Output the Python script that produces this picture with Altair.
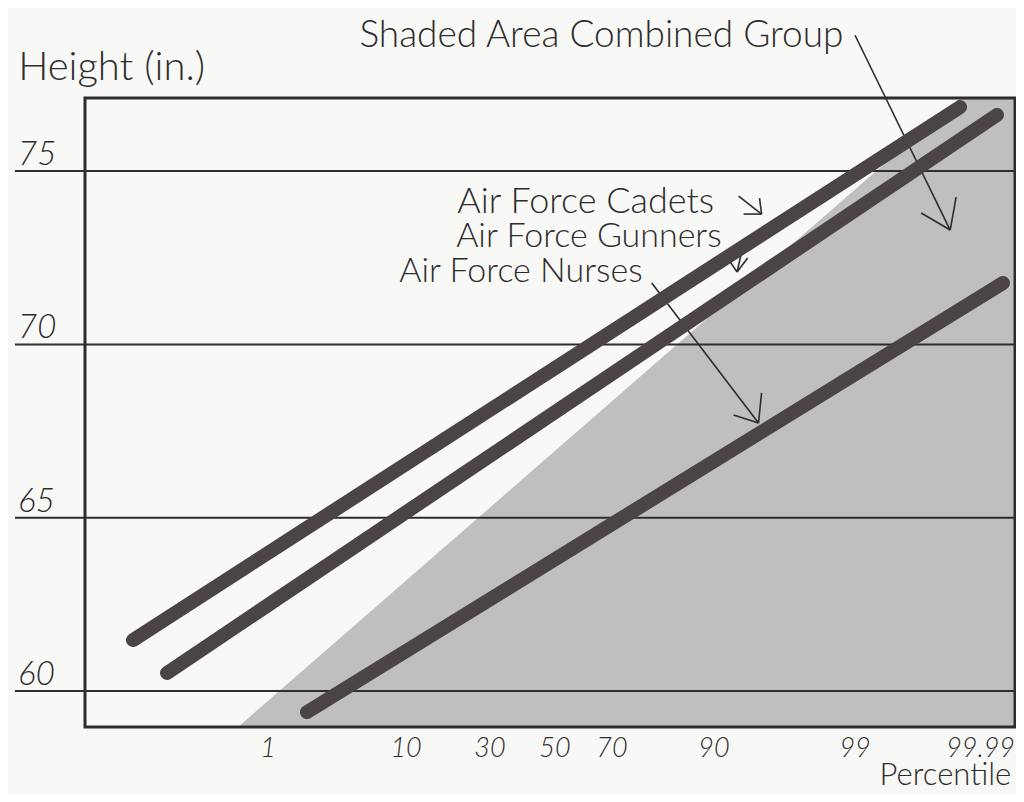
import altair as alt
import pandas as pd

# ---- data (x = position across the probability grid, 0-100) ----
series_names = ["Air Force Cadets", "Air Force Gunners", "Air Force Nurses"]
start_pos = [5.16, 8.82, 23.87]
start_height = [61.47, 60.52, 59.39]
end_pos = [94.09, 98.06, 98.71]
end_height = [76.85, 76.62, 71.77]

grid_heights = [60, 65, 70, 75]
grid_labels = ["60", "65", "70", "75"]

pct_labels = ["1", "10", "30", "50", "70", "90", "99", "99.99"]
pct_pos = [19.68, 34.52, 43.55, 50.54, 56.67, 67.63, 82.80, 96.30]

shade_pos = [16.45, 94.09, 100.0]
shade_top = [58.96, 77.11, 77.11]

Y_MIN, Y_MAX = 58.96, 77.11
X_MIN, X_MAX = 0.0, 100.0

# annotation texts and anchors (data units)
note_text = ["Shaded Area Combined Group", "Height (in.)", "Air Force Cadets",
             "Air Force Gunners", "Air Force Nurses"]
note_x = [29.51, -7.19, 40.02, 39.91, 33.80]
note_y = [78.58, 77.62, 73.79, 72.81, 71.80]
note_size = [37, 40, 36, 34, 34]

# arrow segments (data units)
seg_x = [82.80, 89.91, 93.67, 60.94, 69.74, 72.75, 70.28, 70.82, 72.53, 70.71, 69.10, 71.25]
seg_y = [78.92, 73.79, 74.25, 71.77, 67.96, 68.60, 74.28, 73.76, 74.22, 72.78, 72.49, 72.49]
seg_x2 = [93.03, 93.03, 93.03, 72.42, 72.42, 72.42, 72.75, 72.75, 72.75, 70.11, 70.11, 70.11]
seg_y2 = [73.30, 73.30, 73.30, 67.73, 67.73, 67.73, 73.76, 73.76, 73.76, 72.09, 72.09, 72.09]

# ---- tables ----
rows = []
for n, x0, y0, x1, y1 in zip(series_names, start_pos, start_height, end_pos, end_height):
    rows.append({"series": n, "x": x0, "y": y0, "o": 0})
    rows.append({"series": n, "x": x1, "y": y1, "o": 1})
lines_df = pd.DataFrame(rows)

shade_df = pd.DataFrame({"x": shade_pos, "y": shade_top, "y2": [Y_MIN] * len(shade_pos)})
grid_df = pd.DataFrame({"y": grid_heights, "label": grid_labels,
                        "x": [-7.53] * 4, "x2": [X_MAX] * 4, "lx": [-7.2] * 4})
xlab_df = pd.DataFrame({"x": pct_pos, "label": pct_labels, "y": [58.08] * len(pct_pos)})
note_df = pd.DataFrame({"text": note_text, "x": note_x, "y": note_y, "fs": note_size})
title_df = pd.DataFrame({"text": ["Percentile"], "x": [99.6], "y": [57.28]})
seg_df = pd.DataFrame({"x": seg_x, "y": seg_y, "x2": seg_x2, "y2": seg_y2})
frame_df = pd.DataFrame({"x": [X_MIN], "x2": [X_MAX], "y": [Y_MIN], "y2": [Y_MAX]})

xs = alt.Scale(domain=[X_MIN, X_MAX], nice=False, zero=False)
ys = alt.Scale(domain=[Y_MIN, Y_MAX], nice=False, zero=False)
X = lambda f="x": alt.X(f"{f}:Q", scale=xs, axis=None)
Y = lambda f="y": alt.Y(f"{f}:Q", scale=ys, axis=None)

INK = "#2e2c2d"
FONT = "Lato"

shade = alt.Chart(shade_df).mark_area(color="#bfbfbf", interpolate="linear").encode(
    x=X(), y=Y(), y2="y2:Q")

grid = alt.Chart(grid_df).mark_rule(color=INK, strokeWidth=2).encode(
    x=X(), x2="x2:Q", y=Y())

ylabels = alt.Chart(grid_df).mark_text(
    align="left", baseline="alphabetic", dy=-6, font=FONT, fontWeight=300,
    fontStyle="italic", fontSize=33, color=INK).encode(
    x=X("lx"), y=Y(), text="label:N")

xlabels = alt.Chart(xlab_df).mark_text(
    align="center", baseline="alphabetic", font=FONT, fontWeight=300,
    fontStyle="italic", fontSize=27, color=INK).encode(
    x=X(), y=Y(), text="label:N")

segs = alt.Chart(seg_df).mark_rule(color=INK, strokeWidth=1.6).encode(
    x=X(), y=Y(), x2="x2:Q", y2="y2:Q")

lines = alt.Chart(lines_df).mark_line(
    strokeWidth=14, strokeCap="round", color="#4a4446").encode(
    x=X(), y=Y(), detail="series:N", order="o:Q")

notes = alt.Chart(note_df).mark_text(
    align="left", baseline="alphabetic", font=FONT, fontWeight=300, color=INK).encode(
    x=X(), y=Y(), text="text:N", size=alt.Size("fs:Q", scale=None, legend=None))

xtitle = alt.Chart(title_df).mark_text(
    align="right", baseline="alphabetic", font=FONT, fontWeight=300, fontSize=31,
    color=INK).encode(x=X(), y=Y(), text="text:N")

frame = alt.Chart(frame_df).mark_rect(filled=False, color=INK, strokeWidth=3).encode(
    x=X(), x2="x2:Q", y=Y(), y2="y2:Q")

chart = alt.layer(shade, grid, segs, lines, frame, ylabels, xlabels, notes, xtitle).properties(
    width=930, height=629,
    autosize=alt.AutoSizeParams(type="none"),
    padding={"left": 77, "top": 90, "right": 1, "bottom": 67},
    background="#f8f8f6",
).configure_view(strokeWidth=0)

chart.save("out.html", embed_options={"renderer": "svg", "actions": False})
